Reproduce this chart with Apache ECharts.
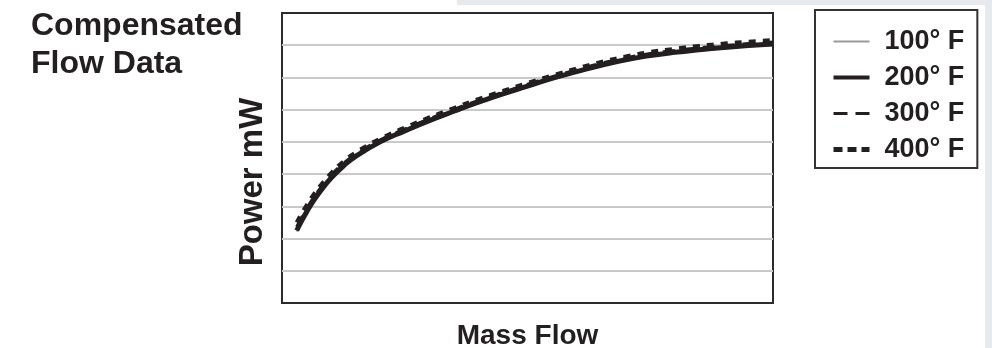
<!DOCTYPE html>
<html>
<head>
<meta charset="utf-8">
<script src="https://cdn.jsdelivr.net/npm/echarts@6/dist/echarts.min.js"></script>
<style>
  html, body { margin: 0; padding: 0; background: #fff; }
  #chart { width: 992px; height: 348px; }
</style>
</head>
<body>
<div id="chart"></div>
<script>
// mass flow (arbitrary units, no tick labels in the original)
const massFlow = [0.3, 0.4, 0.5, 0.65, 0.8, 1, 1.25, 1.5, 2, 2.5, 3, 3.5, 4, 4.5, 5, 5.5, 6, 6.5, 7, 7.5, 8, 8.5, 9, 9.5, 10];
const power100 = [2.22, 2.52, 2.79, 3.16, 3.48, 3.85, 4.22, 4.52, 4.97, 5.31, 5.63, 5.92, 6.2, 6.46, 6.7, 6.94, 7.15, 7.35, 7.52, 7.65, 7.75, 7.83, 7.9, 7.96, 8.01];
const power200 = [2.25, 2.55, 2.82, 3.19, 3.51, 3.88, 4.25, 4.55, 5.0, 5.34, 5.66, 5.95, 6.23, 6.49, 6.73, 6.97, 7.18, 7.38, 7.55, 7.68, 7.78, 7.86, 7.93, 7.99, 8.04];
const power300 = [2.37, 2.66, 2.93, 3.29, 3.6, 3.97, 4.33, 4.62, 5.06, 5.4, 5.72, 6.01, 6.29, 6.54, 6.79, 7.02, 7.24, 7.44, 7.61, 7.74, 7.84, 7.92, 7.99, 8.05, 8.1];
const power400 = [2.5, 2.78, 3.03, 3.38, 3.68, 4.03, 4.39, 4.67, 5.1, 5.44, 5.76, 6.05, 6.33, 6.58, 6.83, 7.06, 7.28, 7.48, 7.65, 7.79, 7.89, 7.98, 8.05, 8.11, 8.16];
const seriesNames = ['100° F', '200° F', '300° F', '400° F'];

const ink = '#231f20';
const grey = '#9a9a9a';
const font = '"Liberation Sans", Arial, sans-serif';

const pairs = (ys) => massFlow.map((x, i) => [x, ys[i]]);

const chart = echarts.init(document.getElementById('chart'));

chart.setOption({
    backgroundColor: '#fff',
    animation: false,
    title: {
        text: 'Compensated\nFlow Data',
        left: 31,
        top: 7,
        padding: 0,
        textStyle: { fontFamily: font, fontSize: 32, fontWeight: 'bold', color: ink, lineHeight: 38 }
    },
    legend: {
        orient: 'vertical',
        left: 815,
        top: 10,
        padding: [18, 13, 5, 16],
        itemWidth: 36,
        itemHeight: 26,
        itemGap: 9,
        borderColor: '#333',
        borderWidth: 2,
        itemStyle: { opacity: 0 },
        data: [
            { name: seriesNames[0], lineStyle: { color: grey, width: 2, type: 'solid' } },
            { name: seriesNames[1], lineStyle: { color: ink, width: 4, type: 'solid' } },
            { name: seriesNames[2], lineStyle: { color: ink, width: 3, type: [14, 8] } },
            { name: seriesNames[3], lineStyle: { color: ink, width: 5, type: [9, 5] } }
        ],
        textStyle: { fontFamily: font, fontSize: 27, fontWeight: 'bold', color: ink, padding: [0, 0, 0, 10] }
    },
    grid: {
        left: 282, right: 219, top: 13, bottom: 45,
        outerBoundsMode: 'none',
        show: true,
        borderColor: '#2b2b2b',
        borderWidth: 2
    },
    xAxis: {
        type: 'value',
        min: 0,
        max: 10,
        name: 'Mass Flow',
        nameLocation: 'middle',
        nameGap: 19,
        nameTextStyle: { fontFamily: font, fontSize: 28, fontWeight: 'bold', color: ink },
        axisLine: { show: false },
        axisTick: { show: false },
        axisLabel: { show: false },
        splitLine: { show: false }
    },
    yAxis: {
        type: 'value',
        min: 0,
        max: 9,
        interval: 1,
        name: 'Power mW',
        nameLocation: 'middle',
        nameRotate: 90,
        nameGap: 13,
        nameTextStyle: { fontFamily: font, fontSize: 33, fontWeight: 'bold', color: ink, padding: [0, 48, 0, 0] },
        axisLine: { show: false },
        axisTick: { show: false },
        axisLabel: { show: false },
        splitLine: { show: true, showMinLine: false, showMaxLine: false, lineStyle: { color: '#c9c9c9', width: 2 } }
    },
    graphic: [
        { type: 'rect', shape: { x: 457, y: 0, width: 535, height: 5 }, style: { fill: '#e6eaef' }, silent: true },
        { type: 'rect', shape: { x: 985, y: 0, width: 7, height: 348 }, style: { fill: '#e6eaef' }, silent: true }
    ],
    series: [
        {
            name: seriesNames[0], type: 'line', smooth: true, symbol: 'none',
            data: pairs(power100),
            lineStyle: { color: grey, width: 2 }, itemStyle: { color: grey }
        },
        {
            name: seriesNames[2], type: 'line', smooth: true, symbol: 'none',
            data: pairs(power300),
            lineStyle: { color: ink, width: 3, type: [12, 8] }, itemStyle: { color: ink }
        },
        {
            name: seriesNames[1], type: 'line', smooth: true, symbol: 'none',
            data: pairs(power200),
            lineStyle: { color: ink, width: 5 }, itemStyle: { color: ink }
        },
        {
            name: seriesNames[3], type: 'line', smooth: true, symbol: 'none',
            data: pairs(power400),
            lineStyle: { color: ink, width: 4, type: [7, 7] }, itemStyle: { color: ink }
        }
    ]
});
</script>
</body>
</html>
